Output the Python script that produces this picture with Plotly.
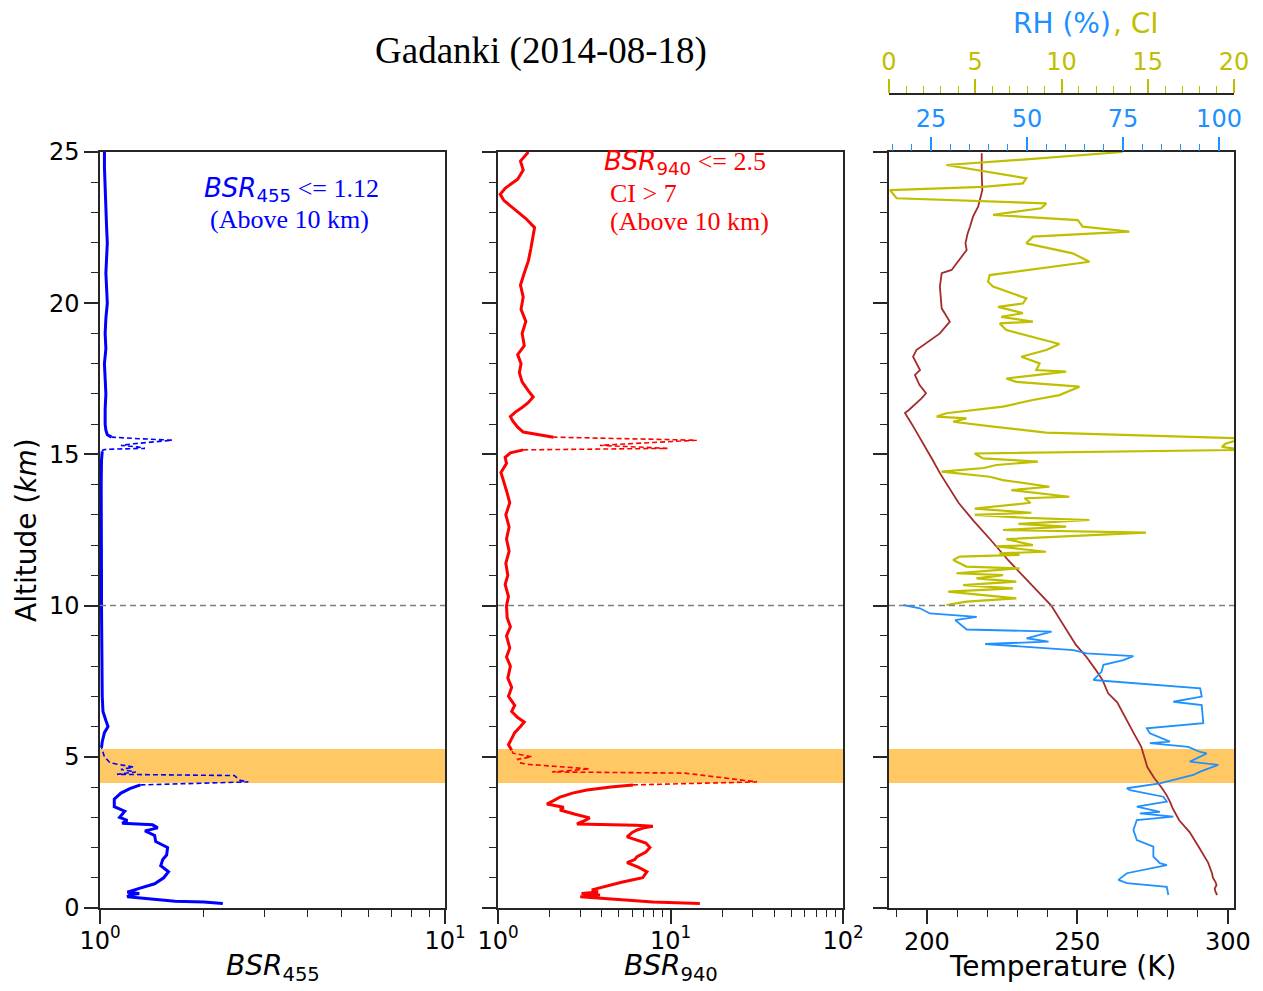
import plotly.graph_objects as go

# page body has an 8px margin: size the figure so that it fills the window exactly
W, H = 1263, 991
OFF = 8
FW, FH = W - 2 * OFF, H - 2 * OFF
def px(x): return (x - OFF) / FW
def py(y): return 1 - (y - OFF) / FH

# ---------------- data ----------------
# Panel 1: BSR at 455 nm (cloud flag = 1 -> dashed segment)
alt455 = [0.15, 0.2, 0.22, 0.37, 0.43, 0.48, 0.52, 0.58, 0.65, 0.8, 1.0, 1.2, 1.4, 1.6, 1.75, 2.0,
          2.2, 2.4, 2.55, 2.65, 2.75, 2.8, 2.9, 3.0, 3.2, 3.35, 3.6, 3.8, 3.95, 4.07,
          4.1, 4.17, 4.22, 4.38, 4.42, 4.5, 4.58, 4.66, 4.8, 5.0, 5.15,
          5.3, 5.5, 5.8, 6.0, 6.2, 6.5, 7.0, 8.0, 9.0, 10.0, 11.0, 12.0, 13.0, 14.0, 14.8, 15.1,
          15.15, 15.17, 15.2, 15.25, 15.3, 15.35, 15.42, 15.47, 15.52,
          15.57, 15.65, 15.8, 16.0, 16.5, 17.0, 17.5, 18.0, 18.5, 19.0, 19.5, 20.0, 20.5, 21.0,
          21.5, 22.0, 22.5, 23.0, 23.5, 24.0, 24.5, 25.0]
bsr455 = [2.27, 2.0, 1.65, 1.2, 1.22, 1.3, 1.2, 1.24, 1.3, 1.44, 1.53, 1.58, 1.5, 1.52, 1.56, 1.57,
          1.45, 1.44, 1.35, 1.47, 1.42, 1.16, 1.2, 1.14, 1.18, 1.1, 1.1, 1.15, 1.22, 1.31,
          1.6, 2.69, 2.55, 2.45, 1.12, 1.27, 1.15, 1.25, 1.07, 1.03, 1.02,
          1.01, 1.015, 1.03, 1.055, 1.04, 1.02, 1.015, 1.012, 1.01, 1.01, 1.01, 1.008, 1.008, 1.008, 1.01, 1.015,
          1.02, 1.05, 1.35, 1.28, 1.15, 1.25, 1.45, 1.62, 1.3,
          1.08, 1.05, 1.04, 1.035, 1.035, 1.04, 1.035, 1.03, 1.04, 1.035, 1.04, 1.05, 1.045, 1.04,
          1.045, 1.05, 1.045, 1.04, 1.035, 1.035, 1.03, 1.03]
cloud455 = [0] * 30 + [1] * 11 + [0] * 16 + [1] * 9 + [0] * 22

# Panel 2: BSR at 940 nm
alt940 = [0.15, 0.18, 0.2, 0.37, 0.43, 0.48, 0.53, 0.6, 0.7, 0.85, 1.0, 1.2, 1.35, 1.5, 1.6, 1.7, 1.85,
          2.0, 2.15, 2.35, 2.5, 2.58, 2.65, 2.7, 2.74, 2.78, 2.9, 2.98, 3.1, 3.24, 3.33, 3.44, 3.55,
          3.67, 3.8, 3.9, 4.0, 4.07,
          4.12, 4.17, 4.46, 4.5, 4.6, 4.68, 4.75, 4.8, 4.92, 5.0, 5.08, 5.12,
          5.22, 5.4, 5.6, 5.8, 6.0, 6.15, 6.3, 6.5, 6.7, 7.0, 7.3, 7.6, 8.0, 8.3, 8.6, 9.0, 9.3, 9.6,
          10.0, 10.3, 10.7, 11.0, 11.4, 11.8, 12.2, 12.6, 13.0, 13.4, 13.8, 14.1, 14.4, 14.7, 14.9,
          15.05, 15.15,
          15.2, 15.3, 15.47,
          15.57, 15.65, 15.74, 15.9, 16.1, 16.25, 16.4, 16.55, 16.7, 16.9, 17.1, 17.4, 17.7, 18.0,
          18.3, 18.6, 19.0, 19.4, 19.8, 20.2, 20.6, 21.0, 21.4, 21.8, 22.2, 22.5, 22.8, 23.1, 23.4,
          23.6, 23.8, 24.1, 24.4, 24.7, 25.0]
bsr940 = [14.8, 8.5, 7.9, 3.0, 3.9, 3.05, 3.8, 3.5, 4.06, 5.2, 6.9, 7.3, 6.5, 5.6, 6.2, 6.4, 7.2,
          7.6, 7.2, 5.6, 6.0, 6.4, 7.0, 7.9, 6.3, 2.87, 3.2, 3.4, 2.8, 2.29, 2.4, 1.92, 2.1,
          2.29, 2.7, 3.28, 4.5, 6.06,
          15.0, 31.7, 12.1, 2.06, 3.4, 2.2, 1.5, 1.34, 1.3, 1.57, 1.3, 1.22,
          1.2, 1.15, 1.2, 1.25, 1.35, 1.42, 1.3, 1.2, 1.25, 1.15, 1.2, 1.14, 1.18, 1.12, 1.17, 1.12, 1.18, 1.13,
          1.12, 1.15, 1.1, 1.14, 1.11, 1.16, 1.12, 1.16, 1.11, 1.17, 1.12, 1.08, 1.04, 1.12, 1.1,
          1.18, 1.4,
          9.6, 3.9, 14.2,
          2.1, 1.7, 1.4, 1.3, 1.22, 1.18, 1.26, 1.38, 1.49, 1.6, 1.5, 1.38, 1.33, 1.36,
          1.3, 1.42, 1.38, 1.45, 1.36, 1.4, 1.35, 1.42, 1.5, 1.55, 1.6, 1.63, 1.45, 1.25, 1.08,
          1.03, 1.1, 1.3, 1.4, 1.35, 1.5]
cloud940 = [0] * 38 + [1] * 12 + [0] * 35 + [1] * 3 + [0] * 36

# Panel 3: temperature, RH (below 10 km), CI (above 10 km)
alt_T = [0.43, 0.55, 0.65, 0.75, 0.85, 1.0, 1.15, 1.5, 2.0, 2.5, 2.9, 3.3, 3.5, 3.75, 4.0, 4.3,
         4.66, 5.0, 5.33, 5.8, 6.3, 6.8, 7.1, 7.54, 7.9, 8.3, 8.7, 9.2, 9.6, 10.0, 10.5, 11.0, 11.5,
         12.17, 12.8, 13.4, 14.0, 14.38, 14.8, 15.15, 15.6, 16.0, 16.37, 16.47, 16.85, 17.02, 17.3,
         17.63, 17.79, 18.23, 18.45, 18.78, 19.0, 19.39, 19.83, 20.55, 20.99, 21.1, 21.48, 21.76,
         21.98, 22.3, 22.53, 22.86, 23.19, 23.74, 24.3, 24.96]
temp = [296.4, 295.8, 295.6, 296.2, 295.9, 295.0, 294.7, 293.4, 290.4, 287.3, 283.8, 281.6, 280.8,
        279.5, 277.8, 275.5, 273.2, 272.2, 271.2, 268.6, 266.0, 263.2, 260.2, 258.3, 255.9, 253.0,
        249.5, 246.4, 243.8, 241.3, 236.5, 231.7, 227.0, 221.2, 215.5, 210.5, 206.6, 204.3, 202.0,
        200.0, 197.5, 195.0, 192.7, 194.0, 198.2, 199.7, 197.5, 196.0, 197.7, 195.4, 196.5, 201.0,
        204.3, 207.6, 204.9, 204.3, 204.9, 208.2, 211.0, 213.2, 212.8, 213.5, 214.3, 215.3, 217.0,
        218.4, 218.2, 218.2]

alt_RH = [0.43, 0.7, 0.82, 0.93, 1.15, 1.42, 1.48, 1.7, 2.03, 2.25, 2.58, 2.91, 3.02, 3.13, 3.18,
          3.35, 3.52, 3.68, 3.9, 3.96, 4.12, 4.23, 4.4, 4.51, 4.73, 4.84, 5.11, 5.16, 5.33, 5.45,
          5.5, 5.78, 5.94, 6.11, 6.71, 6.82, 6.99, 7.26, 7.54, 7.81, 8.04, 8.2, 8.33, 8.42, 8.53,
          8.73, 8.81, 8.92, 9.14, 9.21, 9.52, 9.63, 9.74, 9.91, 10.02]
rh = [86.8, 86.4, 76.0, 73.8, 76.0, 86.4, 84.6, 82.9, 82.9, 78.6, 77.7, 78.6, 88.1, 79.4, 84.6,
      78.6, 86.4, 85.5, 76.8, 76.0, 84.6, 88.1, 93.3, 95.1, 99.8, 92.4, 96.8, 95.1, 92.0, 82.0,
      87.2, 82.0, 81.2, 95.9, 95.5, 88.1, 95.5, 95.1, 67.3, 69.4, 69.9, 75.1, 77.7, 65.5, 62.1,
      39.1, 55.6, 49.9, 56.4, 34.3, 31.3, 36.9, 24.7, 22.1, 17.8]

alt_CI = [10.02, 10.13, 10.24, 10.46, 10.57, 10.68, 10.79, 10.9, 11.01, 11.07, 11.18, 11.23, 11.29,
          11.51, 11.62, 11.68, 11.73, 11.78, 11.96, 12.0, 12.2, 12.41, 12.5, 12.61, 12.7, 12.83,
          12.9, 13.0, 13.07, 13.21, 13.4, 13.55, 13.6, 13.82, 13.93, 14.15, 14.26, 14.43, 14.55,
          14.65, 14.76, 14.87, 15.03, 15.15, 15.25, 15.35, 15.53, 15.64, 15.72, 15.92, 16.08, 16.19,
          16.25, 16.36, 16.58, 16.8, 16.96, 17.24, 17.4, 17.51, 17.74, 17.79, 18.01, 18.23, 18.45,
          18.65, 18.89, 19.11, 19.33, 19.39, 19.55, 19.67, 19.88, 19.99, 20.16, 20.55, 20.71, 20.93,
          21.37, 21.65, 21.98, 22.2, 22.37, 22.53, 22.75, 22.92, 23.14, 23.3, 23.47, 23.74, 23.85,
          23.96, 24.13, 24.57, 24.74, 25.0]
ci = [3.33, 4.49, 7.38, 3.43, 7.19, 4.3, 7.38, 5.07, 6.61, 3.91, 6.42, 7.57, 4.49,
      3.72, 4.1, 7.57, 6.4, 9.1, 6.22, 8.34, 6.8, 14.9, 6.61, 10.27, 7.5, 11.62,
      8.0, 4.97, 8.25, 4.97, 8.2, 7.86, 10.46, 7.09, 9.3, 6.61, 5.84, 3.04, 5.5,
      6.22, 8.63, 5.45, 4.97, 20.5, 19.3, 19.5, 20.5, 14.3, 9.1, 6.03, 3.72, 4.49,
      2.76, 3.33, 6.61, 8.34, 9.88, 11.04, 7.38, 6.8, 10.27, 8.54, 8.73, 7.67, 9.12,
      9.88, 8.34, 6.8, 6.42, 8.34, 6.51, 7.76, 6.32, 7.76, 7.96, 6.03, 5.74, 5.84,
      11.62, 10.65, 7.96, 8.34, 13.93, 11.23, 10.94, 6.03, 8.82, 9.12, 0.44, 0.06, 5.45,
      7.76, 7.96, 3.33, 7.57, 13.54]

cloud_base, cloud_top = 4.13, 5.26
ref_alt = 10

# ---------------- helpers ----------------
def split(vals, flags):
    n = len(vals)
    solid, dashed = [], []
    for i in range(n):
        solid.append(vals[i] if not flags[i] else None)
        near = flags[i] or (i + 1 < n and flags[i + 1]) or (i > 0 and flags[i - 1])
        dashed.append(vals[i] if near else None)
    return solid, dashed

fig = go.Figure()

s455, d455 = split(bsr455, cloud455)
fig.add_trace(go.Scatter(x=s455, y=alt455, mode='lines', line=dict(color='#0000FF', width=3),
                         xaxis='x', yaxis='y', connectgaps=False, showlegend=False))
fig.add_trace(go.Scatter(x=d455, y=alt455, mode='lines', line=dict(color='#0000FF', width=1.6, dash='5px,3px'),
                         xaxis='x', yaxis='y', connectgaps=False, showlegend=False))

s940, d940 = split(bsr940, cloud940)
fig.add_trace(go.Scatter(x=s940, y=alt940, mode='lines', line=dict(color='#FF0000', width=3),
                         xaxis='x2', yaxis='y2', connectgaps=False, showlegend=False))
fig.add_trace(go.Scatter(x=d940, y=alt940, mode='lines', line=dict(color='#FF0000', width=1.6, dash='5px,3px'),
                         xaxis='x2', yaxis='y2', connectgaps=False, showlegend=False))

fig.add_trace(go.Scatter(x=temp, y=alt_T, mode='lines', line=dict(color='#A52A2A', width=1.8),
                         xaxis='x3', yaxis='y3', showlegend=False))
fig.add_trace(go.Scatter(x=rh, y=alt_RH, mode='lines', line=dict(color='#1E90FF', width=1.8),
                         xaxis='x4', yaxis='y3', showlegend=False))
fig.add_trace(go.Scatter(x=ci, y=alt_CI, mode='lines', line=dict(color='#BFBF00', width=2.2),
                         xaxis='x5', yaxis='y3', showlegend=False))

AX = '#262626'
TF = dict(family='DejaVu Sans', size=24, color='black')
base = dict(showline=True, linecolor=AX, linewidth=1.5, mirror=True, ticks='outside',
            tickcolor=AX, tickwidth=1.5, ticklen=14, showgrid=False, zeroline=False, tickfont=TF,
            automargin=False)
minor_style = dict(ticks='outside', ticklen=7, tickwidth=1, tickcolor=AX, showgrid=False)

ydom = [py(908), py(152)]
yax = dict(base, range=[0, 25], tickvals=[0, 5, 10, 15, 20, 25],
           minor=dict(minor_style, tickvals=[i for i in range(26) if i % 5]))

fig.update_layout(
    width=FW, height=FH, margin=dict(l=0, r=0, t=0, b=0, pad=0, autoexpand=False),
    autosize=False,
    paper_bgcolor='white', plot_bgcolor='white',
    xaxis=dict(base, type='log', range=[0, 1], domain=[px(100), px(445)], anchor='y',
               tickvals=[1, 10], ticktext=['10<sup>0</sup>', '10<sup>1</sup>'], ticklabelstandoff=-4,
               minor=dict(minor_style, tickvals=list(range(2, 10)))),
    xaxis2=dict(base, type='log', range=[0, 2], domain=[px(498), px(843)], anchor='y2',
                tickvals=[1, 10, 100], ticktext=['10<sup>0</sup>', '10<sup>1</sup>', '10<sup>2</sup>'],
                ticklabelstandoff=-4,
                minor=dict(minor_style, tickvals=list(range(2, 10)) + list(range(20, 100, 10)))),
    xaxis3=dict(base, range=[187.4, 302], domain=[px(889), px(1234)], anchor='y3',
                tickvals=[200, 250, 300], ticklabelstandoff=-3,
                minor=dict(minor_style, tickvals=[t for t in range(190, 301, 10) if t % 50])),
    xaxis4=dict(overlaying='x3', side='top', anchor='y3', range=[14.06, 103.9], automargin=False,
                showline=False, showgrid=False, zeroline=False, ticks='outside', ticklen=14,
                tickwidth=1.5, tickcolor='#1E90FF', tickvals=[25, 50, 75, 100],
                tickfont=dict(family='DejaVu Sans', size=24, color='#1E90FF'),
                minor=dict(ticks='outside', ticklen=7, tickwidth=1, tickcolor='#1E90FF', showgrid=False,
                           tickvals=[v for v in range(15, 101, 5) if v % 25])),
    xaxis5=dict(overlaying='x3', side='top', anchor='free', position=py(94), range=[0, 20],
                automargin=False,
                showline=True, linecolor=AX, linewidth=1.5, showgrid=False, zeroline=False,
                ticks='outside', ticklen=14, tickwidth=1.5, tickcolor='#BFBF00',
                tickvals=[0, 5, 10, 15, 20],
                tickfont=dict(family='DejaVu Sans', size=24, color='#BFBF00'),
                minor=dict(ticks='outside', ticklen=7, tickwidth=1, tickcolor='#BFBF00', showgrid=False,
                           tickvals=[v for v in range(21) if v % 5])),
    yaxis=dict(yax, domain=ydom, anchor='x'),
    yaxis2=dict(yax, domain=ydom, anchor='x2', showticklabels=False),
    yaxis3=dict(yax, domain=ydom, anchor='x3', showticklabels=False),
)

# cloud band and 10 km reference line in each panel
for xr, yr in [('x', 'y'), ('x2', 'y2'), ('x3', 'y3')]:
    fig.add_shape(type='rect', xref=f'{xr} domain', yref=yr, x0=0, x1=1, y0=cloud_base, y1=cloud_top,
                  fillcolor='#FFC864', line=dict(width=0), layer='below')
    fig.add_shape(type='line', xref=f'{xr} domain', yref=yr, x0=0, x1=1, y0=ref_alt, y1=ref_alt,
                  line=dict(color='#808080', width=1.5, dash='6px,4px'), layer='above')

def ann(text, x, y, size=25, color='black', family='DejaVu Sans', xanchor='center', angle=0):
    fig.add_annotation(text=text, x=px(x), y=py(y), xref='paper', yref='paper', showarrow=False,
                       xanchor=xanchor, yanchor='middle', textangle=angle,
                       font=dict(family=family, size=size, color=color))

LAB = 28
ann('Gadanki (2014-08-18)', 541, 51, size=37, family='Liberation Serif')
ann('RH (%)', 1113, 24, size=LAB, color='#1E90FF', xanchor='right')
ann(', CI', 1111, 24, size=LAB, color='#BFBF00', xanchor='left')
ann('Altitude (<i>km</i>)', 26, 530, size=LAB, angle=-90)
ann('<i>BSR</i><sub>455</sub>', 273, 967, size=LAB)
ann('<i>BSR</i><sub>940</sub>', 671, 967, size=LAB)
ann('Temperature (K)', 1062, 966, size=LAB)

SERIF = 'Liberation Serif'
ann('<i>BSR</i><sub>455</sub><span style="font-family:Liberation Serif"> &lt;= 1.12</span>',
    291, 190, size=26, color='#0000FF')
ann('(Above 10 km)', 289, 220, size=26, color='#0000FF', family=SERIF)
ann('<i>BSR</i><sub>940</sub><span style="font-family:Liberation Serif"> &lt;= 2.5</span>',
    602, 162, size=26, color='#FF0000', xanchor='left')
ann('CI &gt; 7', 608, 193, size=26, color='#FF0000', family=SERIF, xanchor='left')
ann('(Above 10 km)', 608, 221, size=26, color='#FF0000', family=SERIF, xanchor='left')

fig.write_html('out.html')
